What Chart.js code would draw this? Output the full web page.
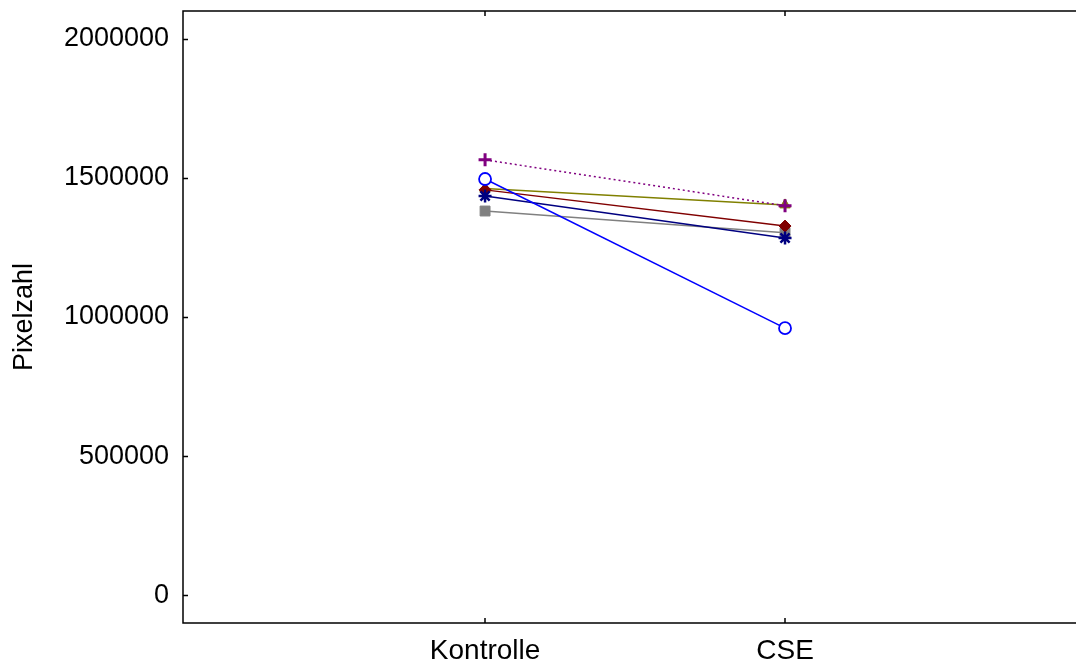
<!DOCTYPE html>
<html>
<head>
<meta charset="utf-8">
<script src="https://cdn.jsdelivr.net/npm/chart.js@4/dist/chart.umd.min.js"></script>
<style>
  html, body { margin: 0; padding: 0; background: #fff; }
  #wrap { width: 1076px; height: 663px; }
</style>
</head>
<body>
<div id="wrap"><canvas id="c" width="1076" height="663"></canvas></div>
<script>
// Conditions on the x axis
const categories = ['Kontrolle', 'CSE'];
// Pixel counts per sample (Kontrolle, CSE)
const seriesPurple = [1565000, 1400000];
const seriesBlue   = [1496000, 960000];
const seriesNavy   = [1435000, 1284000];
const seriesRed    = [1457000, 1327000];
const seriesOlive  = [1462000, 1403000];
const seriesGray   = [1381000, 1303000];
// Value axis ticks
const yTicks = [0, 500000, 1000000, 1500000, 2000000];

const FONT = 'Liberation Sans, Arial, sans-serif';

function pts(vals) { return vals.map((v, i) => ({ x: i, y: v })); }

const datasets = [
  { data: pts(seriesPurple), borderColor: '#800080', backgroundColor: '#800080', borderWidth: 1.5,
    borderDash: [2, 3], pointStyle: 'cross', pointRadius: 6.5, pointBorderWidth: 3, order: 1 },
  { data: pts(seriesBlue), borderColor: '#0000ff', backgroundColor: '#ffffff', borderWidth: 1.5,
    pointStyle: 'circle', pointRadius: 6, pointBorderWidth: 1.8, order: 2 },
  { data: pts(seriesNavy), borderColor: '#000080', backgroundColor: '#000080', borderWidth: 1.5,
    pointStyle: 'star', pointRadius: 6.5, pointBorderWidth: 2.5, order: 3 },
  { data: pts(seriesRed), borderColor: '#800000', backgroundColor: '#800000', borderWidth: 1.5,
    pointStyle: 'rectRot', pointRadius: 6, pointBorderWidth: 1, order: 4 },
  { data: pts(seriesOlive), borderColor: '#808000', backgroundColor: '#808000', borderWidth: 1.5,
    pointStyle: 'triangle', pointRadius: 6, pointBorderWidth: 1, order: 5 },
  { data: pts(seriesGray), borderColor: '#808080', backgroundColor: '#808080', borderWidth: 1.5,
    pointStyle: 'rect', pointRadius: 7, pointBorderWidth: 1, order: 6 }
];

// Frame on left, top and bottom with inward tick marks
const framePlugin = {
  id: 'frame',
  afterDatasetsDraw(chart) {
    const { ctx, chartArea: a, scales } = chart;
    ctx.save();
    ctx.strokeStyle = '#000';
    ctx.lineWidth = 1.5;
    ctx.beginPath();
    ctx.moveTo(a.right + 2, a.top); ctx.lineTo(a.left, a.top);
    ctx.lineTo(a.left, a.bottom); ctx.lineTo(a.right + 2, a.bottom);
    ctx.stroke();
    ctx.beginPath();
    yTicks.forEach(v => {
      const y = Math.round(scales.y.getPixelForValue(v)) + 0.5;
      ctx.moveTo(a.left, y); ctx.lineTo(a.left + 5, y);
    });
    categories.forEach((c, i) => {
      const x = Math.round(scales.x.getPixelForValue(i));
      ctx.moveTo(x, a.top); ctx.lineTo(x, a.top + 5);
      ctx.moveTo(x, a.bottom); ctx.lineTo(x, a.bottom - 5);
    });
    ctx.stroke();
    ctx.restore();
  }
};

new Chart(document.getElementById('c'), {
  type: 'line',
  data: { datasets },
  plugins: [framePlugin],
  options: {
    responsive: false,
    animation: false,
    layout: { autoPadding: false, padding: { top: 11, right: 0, bottom: 0, left: 0 } },
    plugins: { legend: { display: false }, tooltip: { enabled: false } },
    scales: {
      x: {
        type: 'linear',
        min: -1.007,
        max: 1.97,
        afterBuildTicks(scale) { scale.ticks = categories.map((c, i) => ({ value: i })); },
        afterFit(scale) {
          scale.height = 40;
          scale.paddingLeft = 0; scale.paddingRight = 0;
        },
        grid: { display: false, drawTicks: false },
        border: { display: false },
        ticks: {
          padding: 11,
          color: '#000',
          font: { family: FONT, size: 28 },
          callback: (v) => categories[v] ?? ''
        }
      },
      y: {
        type: 'linear',
        min: -100000,
        max: 2100000,
        afterBuildTicks(scale) { scale.ticks = yTicks.map(v => ({ value: v })); },
        afterFit(scale) {
          scale.width = 183;
          scale.paddingTop = 0; scale.paddingBottom = 0;
        },
        grid: { display: false, drawTicks: false },
        border: { display: false },
        ticks: {
          padding: 14,
          color: '#000',
          font: { family: FONT, size: 27 },
          callback: (v) => String(v)
        },
        title: {
          display: true,
          text: 'Pixelzahl',
          color: '#000',
          font: { family: FONT, size: 27 },
          padding: { top: 8, bottom: 0 }
        }
      }
    }
  }
});
</script>
</body>
</html>
